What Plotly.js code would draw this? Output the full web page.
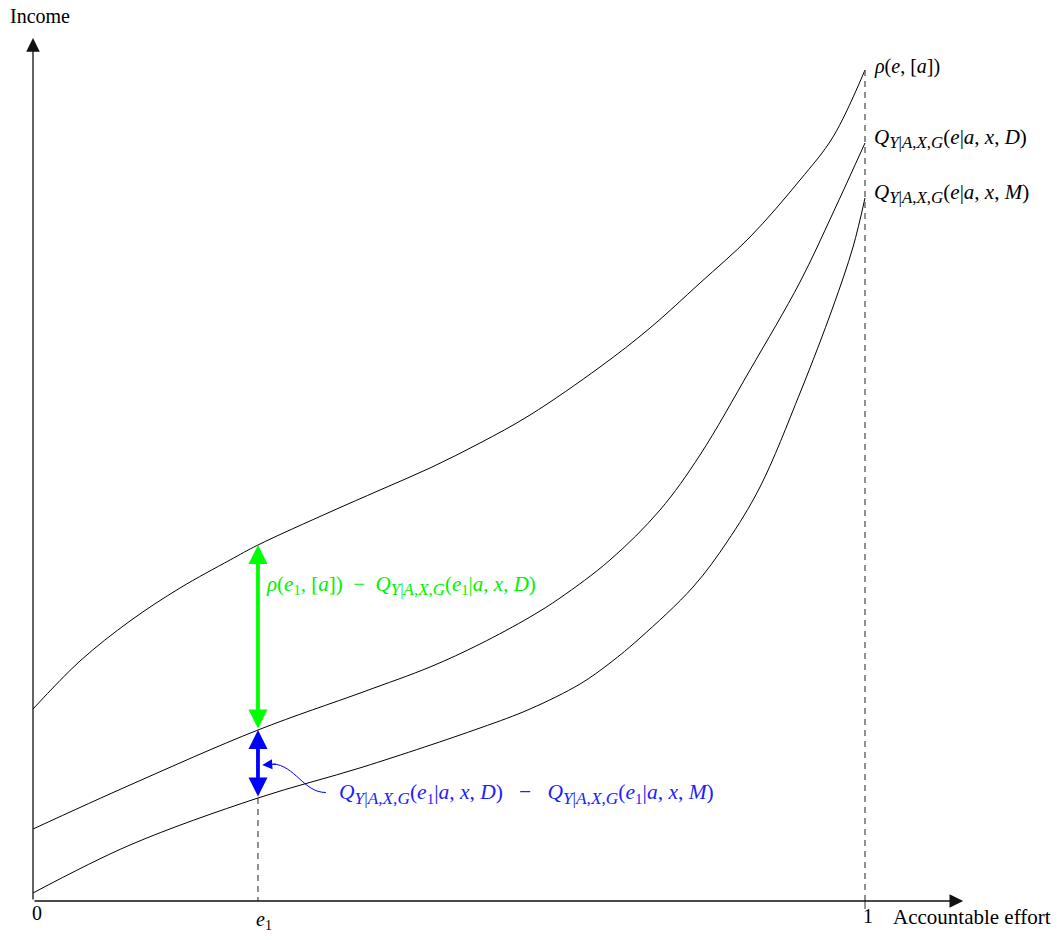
<!DOCTYPE html>
<html>
<head>
<meta charset="utf-8">
<script src="https://cdn.plot.ly/plotly-3.0.1.min.js"></script>
<style>html,body{margin:0;padding:0;background:#fff;}#chart{width:1061px;height:940px;}</style>
</head>
<body>
<div id="chart"></div>
<script>
// Accountable effort (x) and income (y, arbitrary units)
const rhoX = [0, 0.0565, 0.1166, 0.1767, 0.2368, 0.2704, 0.3570, 0.4171, 0.4772, 0.5373, 0.5974, 0.6815, 0.7416, 0.8017, 0.8618, 0.9219, 0.9615, 1.0];
const rhoY = [1.92, 2.40, 2.80, 3.13, 3.41, 3.56, 3.89, 4.11, 4.33, 4.58, 4.86, 5.34, 5.73, 6.18, 6.64, 7.21, 7.64, 8.31];

const qDX = [0, 0.1166, 0.2704, 0.3966, 0.4772, 0.5373, 0.5974, 0.6334, 0.6935, 0.7536, 0.8017, 0.8618, 0.9219, 0.9615, 1.0];
const qDY = [0.72, 1.16, 1.71, 2.09, 2.34, 2.57, 2.84, 3.03, 3.41, 3.91, 4.46, 5.31, 6.19, 6.88, 7.58];

const qMX = [0, 0.1166, 0.2704, 0.3966, 0.5373, 0.5974, 0.6575, 0.6935, 0.7296, 0.7933, 0.8341, 0.8738, 0.9219, 0.9615, 0.9856, 1.0];
const qMY = [0.08, 0.56, 1.03, 1.34, 1.73, 1.92, 2.17, 2.38, 2.63, 3.14, 3.59, 4.14, 5.08, 5.94, 6.54, 7.03];

const e1 = 0.2704;
const e1Rho = 3.56, e1D = 1.71, e1M = 1.03;
const tickLabels = ["0", "<i>e</i><sub>1</sub>", "1"];
const tickValues = [0, e1, 1];

const FONT = "Liberation Serif, Times New Roman, serif";
const lineStyle = {color: "#000", width: 1, shape: "spline", smoothing: 1};

const traces = [
  {x: rhoX, y: rhoY, mode: "lines", line: lineStyle, hoverinfo: "skip", cliponaxis: false},
  {x: qDX, y: qDY, mode: "lines", line: lineStyle, hoverinfo: "skip", cliponaxis: false},
  {x: qMX, y: qMY, mode: "lines", line: lineStyle, hoverinfo: "skip", cliponaxis: false}
];

const SUB = (s) => "<sub><span style=\"font-size:1.15em\">" + s + "</span></sub>";
const Q = "<i>Q</i>" + SUB("<i>Y</i>|<i>A</i>,<i>X</i>,<i>G</i>");

const annotations = [
  // axes with arrows
  {x: 0, y: 8.63, ax: 0, ay: 0, axref: "x", ayref: "y", xref: "x", yref: "y", text: "", showarrow: true,
   arrowhead: 2, arrowsize: 2.1, arrowwidth: 1.3, arrowcolor: "#111"},
  {x: 1.118, y: 0, ax: 0, ay: 0, axref: "x", ayref: "y", xref: "x", yref: "y", text: "", showarrow: true,
   arrowhead: 2, arrowsize: 2.1, arrowwidth: 1.3, arrowcolor: "#111"},
  // axis titles
  {x: 0.0085, y: 8.85, xref: "x", yref: "y", text: "Income", showarrow: false, font: {family: FONT, size: 20, color: "#000"}},
  {x: 1.031, y: -0.16, xref: "x", yref: "y", text: "Accountable effort", showarrow: false, xanchor: "left",
   font: {family: FONT, size: 21, color: "#000"}},
  // green double arrow
  {x: e1, y: e1Rho, ax: e1, ay: e1D, axref: "x", ayref: "y", xref: "x", yref: "y", text: "", showarrow: true,
   arrowhead: 2, startarrowhead: 2, arrowside: "end+start", arrowsize: 1.0, startarrowsize: 1.0,
   arrowwidth: 3.8, arrowcolor: "#00ff00"},
  // blue double arrow
  {x: e1, y: e1D, ax: e1, ay: e1M, axref: "x", ayref: "y", xref: "x", yref: "y", text: "", showarrow: true,
   arrowhead: 2, startarrowhead: 2, arrowside: "end+start", arrowsize: 1.0, startarrowsize: 1.0,
   arrowwidth: 3.8, arrowcolor: "#0000ff"},
  // pointer arrow head
  {x: 0.2755, y: 1.36, ax: 0.294, ay: 1.37, axref: "x", ayref: "y", xref: "x", yref: "y", text: "", showarrow: true,
   arrowhead: 2, arrowsize: 2.0, arrowwidth: 1, arrowcolor: "#0000ff"},
  // curve labels
  {x: 1.009, y: 8.35, xref: "x", yref: "y", xanchor: "left", text: "<i>ρ</i>(<i>e</i>, [<i>a</i>])", showarrow: false,
   font: {family: FONT, size: 20, color: "#000"}},
  {x: 1.009, y: 7.63, xref: "x", yref: "y", xanchor: "left", text: Q + "(<i>e</i>|<i>a</i>, <i>x</i>, <i>D</i>)", showarrow: false,
   font: {family: FONT, size: 21, color: "#000"}},
  {x: 1.009, y: 7.08, xref: "x", yref: "y", xanchor: "left", text: Q + "(<i>e</i>|<i>a</i>, <i>x</i>, <i>M</i>)", showarrow: false,
   font: {family: FONT, size: 21, color: "#000"}},
  {x: 0.278, y: 3.16, xref: "x", yref: "y", xanchor: "left",
   text: "<i>ρ</i>(<i>e</i><sub>1</sub>, [<i>a</i>])  −  " + Q + "(<i>e</i><sub>1</sub>|<i>a</i>, <i>x</i>, <i>D</i>)", showarrow: false,
   font: {family: FONT, size: 21, color: "#00f000"}},
  {x: 0.365, y: 1.07, xref: "x", yref: "y", xanchor: "left",
   text: Q + "(<i>e</i><sub>1</sub>|<i>a</i>, <i>x</i>, <i>D</i>)   −   " + Q + "(<i>e</i><sub>1</sub>|<i>a</i>, <i>x</i>, <i>M</i>)", showarrow: false,
   font: {family: FONT, size: 21.5, color: "#2020ff"}}
];

// tick labels
const tickY = [-0.12, -0.19, -0.15];
const tickDX = [0.005, 0.0075, 0.0035];
tickValues.forEach((v, i) => {
  annotations.push({x: v + tickDX[i], y: tickY[i], xref: "x", yref: "y", text: tickLabels[i], showarrow: false,
    font: {family: FONT, size: 20, color: "#000"}});
});

const shapes = [
  // dashed vertical at x = 1
  {type: "line", xref: "x", yref: "y", x0: 1, x1: 1, y0: rhoY[rhoY.length - 1], y1: 0,
   line: {color: "#555", width: 1.3, dash: "6px,5px"}},
  {type: "line", xref: "x", yref: "y", x0: 1, x1: 1, y0: 0, y1: -0.08, line: {color: "#333", width: 1}},
  // dashed vertical at e1
  {type: "line", xref: "x", yref: "y", x0: e1, x1: e1, y0: e1M, y1: 0,
   line: {color: "#222", width: 1, dash: "6px,5px"}},
  // blue curved pointer
  {type: "path", xref: "x", yref: "y", path: "M 0.352,1.085 C 0.325,1.085 0.315,1.36 0.288,1.37",
   line: {color: "#0000ff", width: 1}}
];

const layout = {
  width: 1061, height: 940, autosize: false,
  margin: {l: 0, r: 0, t: 0, b: 0},
  paper_bgcolor: "#fff", plot_bgcolor: "#fff",
  showlegend: false,
  xaxis: {range: [-33 / 832, 1028 / 832], visible: false, fixedrange: true},
  yaxis: {range: [-0.39, 9.01], visible: false, fixedrange: true},
  annotations: annotations,
  shapes: shapes
};

Plotly.newPlot("chart", traces, layout, {staticPlot: true, displayModeBar: false});
</script>
</body>
</html>
